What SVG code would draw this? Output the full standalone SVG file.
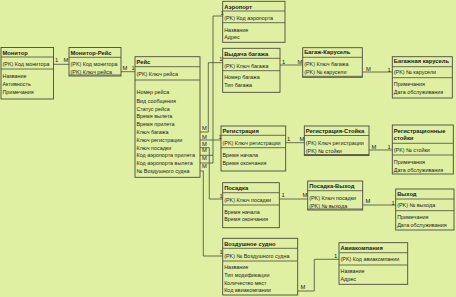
<svg xmlns="http://www.w3.org/2000/svg" width="456" height="297" viewBox="0 0 456 297">
<style>
.bg{fill:#dff0a2}
.box{fill:none;stroke:#4a4a40;stroke-width:0.9}
.sep{stroke:#4a4a40;stroke-width:0.8}
.t{font-family:"Liberation Sans",Arial,sans-serif;font-size:5.4px;fill:#222}
.h{font-family:"Liberation Sans",Arial,sans-serif;font-size:5.8px;font-weight:bold;fill:#1a1a1a}
.c{fill:none;stroke:#4a4a40;stroke-width:0.8}
.l{font-family:"Liberation Sans",Arial,sans-serif;font-size:5.8px;fill:#222}
</style>
<rect class="bg" x="0" y="0" width="456" height="297"/>

<g id="connectors">
<path class="c" d="M53.5,64.3 H69"/>
<text class="l" x="55" y="62">1</text><text class="l" x="63.5" y="62">M</text>
<path class="c" d="M121,71.7 H135"/>
<text class="l" x="122.5" y="69.5">M</text><text class="l" x="131.5" y="69.5">1</text>
<path class="c" d="M280,65 H302.7"/>
<text class="l" x="282" y="63.5">1</text><text class="l" x="297.5" y="64">M</text>
<path class="c" d="M362.3,72 H392.3"/>
<text class="l" x="366" y="70.5">M</text><text class="l" x="387.5" y="72">1</text>
<path class="c" d="M285.7,142.7 H304.3"/>
<text class="l" x="287" y="140.5">1</text><text class="l" x="299.5" y="140.5">M</text>
<path class="c" d="M369,150 H392.3"/>
<text class="l" x="371.5" y="148.5">M</text><text class="l" x="387.5" y="149">1</text>
<path class="c" d="M279.3,199 H307.7"/>
<text class="l" x="281.5" y="196.5">1</text><text class="l" x="302.5" y="196.5">M</text>
<path class="c" d="M362.7,205 H395.7"/>
<text class="l" x="365.5" y="203.2">M</text><text class="l" x="391.5" y="204.5">1</text>
<path class="c" d="M297.7,291 H314.3 V259.3 H339"/>
<text class="l" x="300.5" y="289">M</text><text class="l" x="334" y="257.5">1</text>

<path class="c" d="M200,132 H208.3 V62.7 H222.7"/>
<text class="l" x="219.3" y="61">1</text>
<path class="c" d="M200,155.3 H213 M200,163 H213 V16 H222.7"/>
<text class="l" x="220.5" y="15">1</text>
<path class="c" d="M200,140 H221"/>
<text class="l" x="218.5" y="138.5">1</text>
<path class="c" d="M200,147.7 H209.3 V199 H222.7"/>
<text class="l" x="219.5" y="197.5">1</text>
<path class="c" d="M200,171 H203.3 V256 H222.7"/>
<text class="l" x="219.5" y="253.5">1</text>
<text class="l" x="202" y="129.8">M</text>
<text class="l" x="202" y="138.6">M</text>
<text class="l" x="202" y="145.5">M</text>
<text class="l" x="202" y="152.2">M</text>
<text class="l" x="202" y="160">M</text>
<text class="l" x="202" y="168">M</text>
</g>

<g id="monitor">
<rect class="box" x="1" y="47.5" width="52.5" height="51.5"/>
<line class="sep" x1="1" y1="57" x2="53.5" y2="57"/>
<line class="sep" x1="1" y1="69" x2="53.5" y2="69"/>
<text class="h" x="2.5" y="55.1">Монитор</text>
<text class="t" x="2.5" y="66.3">(PK) Код монитора</text>
<text class="t" x="2.5" y="77.8">Название</text>
<text class="t" x="2.5" y="85.8">Активность</text>
<text class="t" x="2.5" y="93.8">Примечания</text>
</g>

<g id="monitor-reis">
<rect class="box" x="69" y="47.5" width="52" height="28.5"/>
<line class="sep" x1="69" y1="57.3" x2="121" y2="57.3"/>
<line class="sep" x1="69" y1="75" x2="121" y2="75"/>
<text class="h" x="70.5" y="55.3">Монитор-Рейс</text>
<text class="t" x="70.5" y="66.3">(PK) Код монитора</text>
<text class="t" x="70.5" y="73.8">(PK) Ключ рейса</text>
</g>

<g id="reis">
<rect class="box" x="135" y="56.7" width="65" height="120.6"/>
<line class="sep" x1="135" y1="66.7" x2="200" y2="66.7"/>
<line class="sep" x1="135" y1="80" x2="200" y2="80"/>
<text class="h" x="136.5" y="64">Рейс</text>
<text class="t" x="136.5" y="75.8">(PK) Ключ рейса</text>
<text class="t" x="136.5" y="94.3">Номер рейса</text>
<text class="t" x="136.5" y="102.7">Вид сообщения</text>
<text class="t" x="136.5" y="110.7">Статус рейса</text>
<text class="t" x="136.5" y="118.3">Время вылета</text>
<text class="t" x="136.5" y="126.3">Время прилета</text>
<text class="t" x="136.5" y="134">Ключ багажа</text>
<text class="t" x="136.5" y="141.7">Ключ регистрации</text>
<text class="t" x="136.5" y="149.7">Ключ посадки</text>
<text class="t" x="136.5" y="157.3">Код аэропорта прилета</text>
<text class="t" x="136.5" y="165">Код аэропорта вылета</text>
<text class="t" x="136.5" y="173">№ Воздушного судна</text>
</g>

<g id="airport">
<rect class="box" x="222.7" y="1.3" width="62.3" height="41"/>
<line class="sep" x1="222.7" y1="11" x2="285" y2="11"/>
<line class="sep" x1="222.7" y1="22.7" x2="285" y2="22.7"/>
<text class="h" x="224.2" y="8.7">Аэропорт</text>
<text class="t" x="224.2" y="20.3">(PK) Код аэропорта</text>
<text class="t" x="224.2" y="31.7">Название</text>
<text class="t" x="224.2" y="39.3">Адрес</text>
</g>

<g id="baggage-claim">
<rect class="box" x="222.7" y="48.3" width="57.3" height="44"/>
<line class="sep" x1="222.7" y1="58.3" x2="280" y2="58.3"/>
<line class="sep" x1="222.7" y1="70.7" x2="280" y2="70.7"/>
<text class="h" x="224.2" y="55.7">Выдача багажа</text>
<text class="t" x="224.2" y="67.7">(PK) Ключ багажа</text>
<text class="t" x="224.2" y="79">Номер багажа</text>
<text class="t" x="224.2" y="86.7">Тип багажа</text>
</g>

<g id="baggage-carousel-link">
<rect class="box" x="302.7" y="47.7" width="59.6" height="29.6"/>
<line class="sep" x1="302.7" y1="57.3" x2="362.3" y2="57.3"/>
<line class="sep" x1="302.7" y1="76.3" x2="362.3" y2="76.3"/>
<text class="h" x="304.2" y="54.3">Багаж-Карусель</text>
<text class="t" x="304.2" y="66.3">(PK) Ключ багажа</text>
<text class="t" x="304.2" y="73.7">(PK) № карусели</text>
</g>

<g id="baggage-carousel">
<rect class="box" x="392.3" y="56.7" width="60" height="41.3"/>
<line class="sep" x1="392.3" y1="66.7" x2="452.3" y2="66.7"/>
<line class="sep" x1="392.3" y1="77.7" x2="452.3" y2="77.7"/>
<text class="h" x="393.8" y="63.3">Багажная карусель</text>
<text class="t" x="393.8" y="74.3">(PK) № карусели</text>
<text class="t" x="393.8" y="86">Примечания</text>
<text class="t" x="393.8" y="93.7">Дата обслуживания</text>
</g>

<g id="registration">
<rect class="box" x="221" y="126" width="64.7" height="45"/>
<line class="sep" x1="221" y1="135.3" x2="285.7" y2="135.3"/>
<line class="sep" x1="221" y1="147.7" x2="285.7" y2="147.7"/>
<text class="h" x="222.5" y="133.1">Регистрация</text>
<text class="t" x="222.5" y="145.4">(PK) Ключ регистрации</text>
<text class="t" x="222.5" y="157">Время начала</text>
<text class="t" x="222.5" y="165">Время окончания</text>
</g>

<g id="registration-desk-link">
<rect class="box" x="304.3" y="126" width="64.7" height="29.5"/>
<line class="sep" x1="304.3" y1="135.5" x2="369" y2="135.5"/>
<line class="sep" x1="304.3" y1="154.5" x2="369" y2="154.5"/>
<text class="h" x="305.8" y="133.1">Регистрация-Стойка</text>
<text class="t" x="305.8" y="145.4">(PK) Ключ регистрации</text>
<text class="t" x="305.8" y="152.8">(PK) № стойки</text>
</g>

<g id="registration-desks">
<rect class="box" x="392.3" y="125" width="61" height="49"/>
<line class="sep" x1="392.3" y1="143.3" x2="453.3" y2="143.3"/>
<line class="sep" x1="392.3" y1="155" x2="453.3" y2="155"/>
<text class="h" x="393.8" y="132.7">Регистрационные</text>
<text class="h" x="393.8" y="140.3">стойки</text>
<text class="t" x="393.8" y="152">(PK) № стойки</text>
<text class="t" x="393.8" y="164.3">Примечания</text>
<text class="t" x="393.8" y="171.7">Дата обслуживания</text>
</g>

<g id="boarding">
<rect class="box" x="222.7" y="182.7" width="56.6" height="45"/>
<line class="sep" x1="222.7" y1="192.7" x2="279.3" y2="192.7"/>
<line class="sep" x1="222.7" y1="205" x2="279.3" y2="205"/>
<text class="h" x="224.2" y="190.3">Посадка</text>
<text class="t" x="224.2" y="202">(PK) Ключ посадки</text>
<text class="t" x="224.2" y="213.7">Время начала</text>
<text class="t" x="224.2" y="221.3">Время окончания</text>
</g>

<g id="boarding-gate-link">
<rect class="box" x="307.7" y="181" width="55" height="29"/>
<line class="sep" x1="307.7" y1="190.7" x2="362.7" y2="190.7"/>
<line class="sep" x1="307.7" y1="209" x2="362.7" y2="209"/>
<text class="h" x="309.2" y="188">Посадка-Выход</text>
<text class="t" x="309.2" y="200">(PK) Ключ посадки</text>
<text class="t" x="309.2" y="207.5">(PK) № выхода</text>
</g>

<g id="gate">
<rect class="box" x="395.7" y="189" width="58.3" height="41"/>
<line class="sep" x1="395.7" y1="199" x2="454" y2="199"/>
<line class="sep" x1="395.7" y1="210.7" x2="454" y2="210.7"/>
<text class="h" x="397.2" y="196">Выход</text>
<text class="t" x="397.2" y="207.3">(PK) № выхода</text>
<text class="t" x="397.2" y="219.3">Примечания</text>
<text class="t" x="397.2" y="226.7">Дата обслуживания</text>
</g>

<g id="aircraft">
<rect class="box" x="222.7" y="238.3" width="75" height="56.7"/>
<line class="sep" x1="222.7" y1="248.3" x2="297.7" y2="248.3"/>
<line class="sep" x1="222.7" y1="261" x2="297.7" y2="261"/>
<text class="h" x="224.2" y="246">Воздушное судно</text>
<text class="t" x="224.2" y="258">(PK) № Воздушного судна</text>
<text class="t" x="224.2" y="269.3">Название</text>
<text class="t" x="224.2" y="277">Тип модификации</text>
<text class="t" x="224.2" y="284.7">Количество мест</text>
<text class="t" x="224.2" y="292.3">Код авиакомпании</text>
</g>

<g id="airline">
<rect class="box" x="339" y="242.7" width="68.7" height="41.6"/>
<line class="sep" x1="339" y1="252.7" x2="407.7" y2="252.7"/>
<line class="sep" x1="339" y1="265" x2="407.7" y2="265"/>
<text class="h" x="340.5" y="250.3">Авиакомпания</text>
<text class="t" x="340.5" y="261.3">(PK) Код авиакомпании</text>
<text class="t" x="340.5" y="273.3">Название</text>
<text class="t" x="340.5" y="281.3">Адрес</text>
</g>
</svg>
